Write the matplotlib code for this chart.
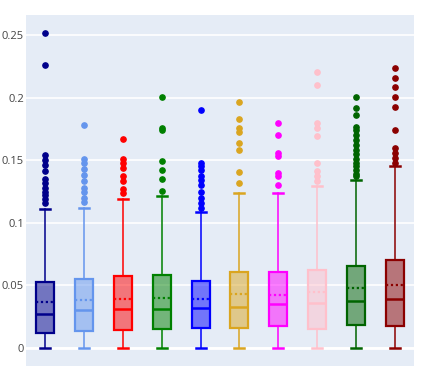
import matplotlib.pyplot as plt
from matplotlib.colors import to_rgba

colors = ['darkblue', 'cornflowerblue', 'red', 'green', 'blue',
          'goldenrod', 'magenta', 'pink', 'darkgreen', 'darkred']

q1 = [0.0117, 0.0136, 0.0141, 0.0152, 0.0157, 0.0157, 0.0176, 0.0154, 0.0181, 0.0178]
med = [0.027, 0.0304, 0.031, 0.0311, 0.032, 0.033, 0.0349, 0.0357, 0.0375, 0.0391]
q3 = [0.0527, 0.0549, 0.0575, 0.0583, 0.0538, 0.061, 0.0604, 0.0623, 0.0658, 0.070]
means = [0.0368, 0.0383, 0.039, 0.0397, 0.039, 0.0429, 0.0423, 0.0445, 0.048, 0.050]
wlo = [0, 0, 0, 0, 0, 0, 0, 0, 0, 0]
whi = [0.111, 0.112, 0.119, 0.1214, 0.1086, 0.124, 0.1235, 0.1294, 0.134, 0.1454]

outliers = [
    [0.252, 0.226, 0.154, 0.150, 0.146, 0.141, 0.135, 0.132, 0.128, 0.125, 0.122, 0.119, 0.116],
    [0.178, 0.151, 0.148, 0.143, 0.138, 0.133, 0.128, 0.125, 0.120, 0.117],
    [0.167, 0.151, 0.148, 0.144, 0.137, 0.133, 0.127, 0.124],
    [0.2008, 0.1755, 0.174, 0.1496, 0.142, 0.135, 0.1256],
    [0.19, 0.148, 0.145, 0.142, 0.137, 0.134, 0.130, 0.125, 0.1196, 0.1156, 0.1116],
    [0.1967, 0.1826, 0.1755, 0.1728, 0.1635, 0.158, 0.1408, 0.1315],
    [0.1795, 0.170, 0.1555, 0.153, 0.1395, 0.137, 0.130],
    [0.2207, 0.21, 0.1795, 0.1755, 0.169, 0.148, 0.141, 0.137, 0.133],
    [0.2008, 0.1914, 0.186, 0.1768, 0.174, 0.170, 0.166, 0.162, 0.158, 0.155, 0.151,
     0.148, 0.145, 0.142, 0.139, 0.137],
    [0.2233, 0.2154, 0.2082, 0.2008, 0.1927, 0.174, 0.1595, 0.1555, 0.1515, 0.148],
]

ytick_vals = [0, 0.05, 0.1, 0.15, 0.2, 0.25]
ytick_labels = ['0', '0.05', '0.1', '0.15', '0.2', '0.25']

fig = plt.figure(figsize=(4.23, 3.68), dpi=100)
ax = fig.add_axes([26 / 423, 2 / 368, 388 / 423, 351 / 368])
ax.set_facecolor('#E5ECF6')

for i, c in enumerate(colors):
    stats = [{'q1': q1[i], 'med': med[i], 'q3': q3[i], 'mean': means[i],
              'whislo': wlo[i], 'whishi': whi[i], 'fliers': outliers[i]}]
    ax.bxp(stats, positions=[i], widths=0.46, patch_artist=True,
           showmeans=True, meanline=True,
           boxprops=dict(facecolor=to_rgba(c, 0.5), edgecolor=c, linewidth=1.6),
           medianprops=dict(color=c, linewidth=1.8, zorder=3),
           meanprops=dict(color=c, linewidth=1.6, linestyle=(0, (1, 1.2)), zorder=3),
           whiskerprops=dict(color=c, linewidth=1.1),
           capprops=dict(color=c, linewidth=1.8),
           capwidths=0.26,
           flierprops=dict(marker='o', markerfacecolor=c, markeredgecolor=c,
                           markersize=3.8, linestyle='none'))

ax.set_xlim(-0.5, 9.5)
ax.set_ylim(-0.0144, 0.266)
ax.set_yticks(ytick_vals)
ax.set_yticklabels(ytick_labels)
ax.set_xticks([])
ax.tick_params(axis='y', length=0, pad=1.5, labelsize=8, labelcolor='#444444')
for lbl in ax.get_yticklabels():
    lbl.set_fontfamily('Open Sans')
ax.grid(axis='y', color='white', linewidth=1.2)
ax.axhline(0, color='white', linewidth=2, zorder=0.5)
ax.set_axisbelow(True)
for s in ax.spines.values():
    s.set_visible(False)

plt.savefig('out.png', dpi=100)
